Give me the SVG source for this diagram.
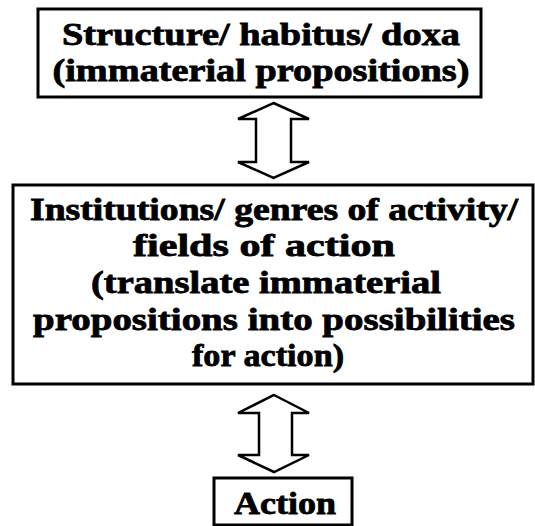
<svg xmlns="http://www.w3.org/2000/svg" width="535" height="526" viewBox="0 0 535 526">
<style>
.box{fill:#fff;stroke:#000;stroke-width:3}
.arr{fill:#fff;stroke:#000;stroke-width:2.5;stroke-linejoin:miter}
text{font-family:"Liberation Serif","DejaVu Serif",serif;font-weight:bold;font-size:32px;fill:#000;stroke:#000;stroke-width:0.8;text-anchor:middle}
</style>
<rect width="535" height="526" fill="#fff"/>
<g id="structure">
<rect class="box" x="38" y="9" width="443" height="88"/>
<text x="261" y="45" textLength="398" lengthAdjust="spacingAndGlyphs">Structure/ habitus/ doxa</text>
<text x="261" y="81" textLength="417" lengthAdjust="spacingAndGlyphs">(immaterial propositions)</text>
</g>
<g id="institutions">
<rect class="box" x="13" y="185" width="520" height="199"/>
<text x="274" y="220" textLength="488" lengthAdjust="spacingAndGlyphs">Institutions/ genres of activity/</text>
<text x="264" y="256" textLength="262" lengthAdjust="spacingAndGlyphs">fields of action</text>
<text x="266" y="293" textLength="350" lengthAdjust="spacingAndGlyphs">(translate immaterial</text>
<text x="274" y="330" textLength="482" lengthAdjust="spacingAndGlyphs">propositions into possibilities</text>
<text x="268" y="366" textLength="152" lengthAdjust="spacingAndGlyphs">for action)</text>
</g>
<g id="action">
<rect class="box" x="214" y="478" width="138" height="47"/>
<text x="285" y="514" textLength="102" lengthAdjust="spacingAndGlyphs">Action</text>
</g>
<g id="connectors">
<polygon class="arr" points="273.5,103 309,119 291,119 291,162 309,162 273.5,178 238,162 256,162 256,119 238,119"/>
<polygon class="arr" points="274,395 309,413 292,413 292,455 309,455 274,472 238,455 259,455 259,413 238,413"/>
</g>
</svg>
